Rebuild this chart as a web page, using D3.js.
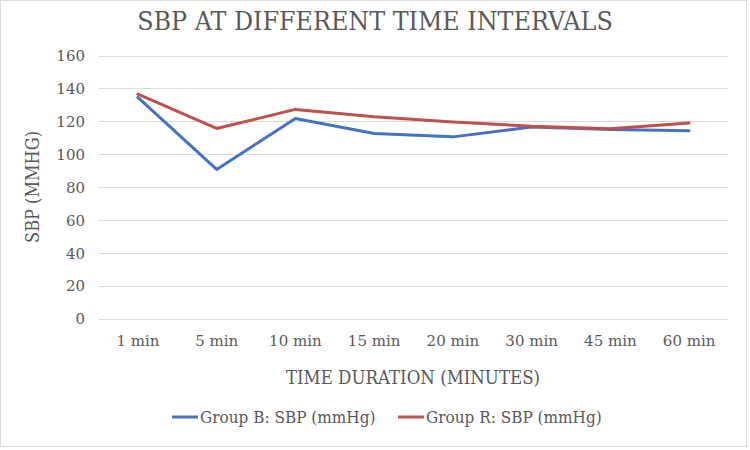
<!DOCTYPE html>
<html><head><meta charset="utf-8">
<script src="https://cdn.jsdelivr.net/npm/d3@7"></script>
<style>body{margin:0;background:#fff}svg{display:block}</style>
</head><body>
<svg id="c" width="750" height="450"></svg>
<script>
const categories = ["1 min","5 min","10 min","15 min","20 min","30 min","45 min","60 min"];
const groupB = [134.5, 90.7, 121.7, 112.6, 110.5, 116.5, 115.0, 114.2];
const groupR = [136.5, 115.6, 127.2, 122.7, 119.6, 117.0, 115.5, 119.0];
const yTicks = [0,20,40,60,80,100,120,140,160];
const seriesNames = ["Group B: SBP (mmHg)", "Group R: SBP (mmHg)"];
const colors = ["#4472c4", "#c0504d"];

const svg = d3.select("#c");
const font = "'DejaVu Serif', serif";
const cfont = "'DejaVu Serif Condensed', 'DejaVu Serif', serif";
const txt = "#595959";

svg.append("rect").attr("x",0.5).attr("y",0.5).attr("width",746).attr("height",446)
  .attr("fill","#fff").attr("stroke","#d9d9d9");

const x = d3.scaleBand().domain(categories).range([98.5, 728.5]);
const y = d3.scaleLinear().domain([0,160]).range([318.5, 55.5]);

// gridlines
svg.append("g").selectAll("line").data(yTicks).join("line")
  .attr("x1", 98.5).attr("x2", 728.5)
  .attr("y1", d => Math.round(y(d))+0.5).attr("y2", d => Math.round(y(d))+0.5)
  .attr("stroke", "#d9d9d9").attr("stroke-width", 1);

// y axis labels
const yAxis = d3.axisLeft(y).tickValues(yTicks).tickSize(0).tickPadding(0);
const gy = svg.append("g").attr("transform","translate(85,0)").call(yAxis);
gy.select(".domain").remove();
gy.selectAll("text").attr("font-family",font).attr("font-size",15).attr("fill",txt).attr("dy","0.35em");

// x axis labels
const xAxis = d3.axisBottom(x).tickSize(0).tickPadding(0);
const gx = svg.append("g").attr("transform","translate(0,0)").call(xAxis);
gx.select(".domain").remove();
gx.selectAll("text").attr("font-family",font).attr("font-size",15).attr("fill",txt).attr("y",346).attr("dy",0);

// lines
const line = d3.line().x((d,i)=>x(categories[i]) + x.bandwidth()/2).y(d=>y(d));
[groupB, groupR].forEach((s,i)=>{
  svg.append("path").datum(s).attr("d", line).attr("fill","none")
    .attr("stroke", colors[i]).attr("stroke-width", 3).attr("stroke-linejoin","round").attr("stroke-linecap","round");
});

// title
svg.append("text").attr("x", 375).attr("y", 30).attr("text-anchor","middle")
  .attr("font-family",cfont).attr("font-size",26.5)
  .attr("fill",txt).text("SBP AT DIFFERENT TIME INTERVALS");

// axis titles
svg.append("text").attr("transform","translate(39,187) rotate(-90)").attr("text-anchor","middle")
  .attr("font-family",cfont).attr("font-size",18).attr("fill",txt).text("SBP (MMHG)");
svg.append("text").attr("x", 413).attr("y", 384).attr("text-anchor","middle")
  .attr("font-family",cfont).attr("font-size",18.5).attr("fill",txt).text("TIME DURATION (MINUTES)");

// legend
const legX = [172, 398];
seriesNames.forEach((n,i)=>{
  const g = svg.append("g").attr("transform",`translate(${legX[i]},417)`);
  g.append("line").attr("x1",0).attr("x2",26).attr("y1",0).attr("y2",0).attr("stroke",colors[i]).attr("stroke-width",3);
  g.append("text").attr("x",28).attr("y",0).attr("dy","0.35em").attr("font-family",cfont)
    .attr("font-size",17).attr("fill",txt).text(n);
});
</script>
</body></html>
